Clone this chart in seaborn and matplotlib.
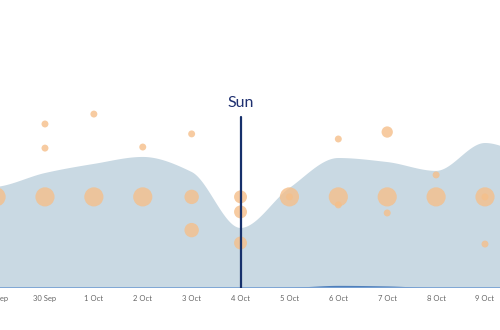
import numpy as np
import pandas as pd
import matplotlib
matplotlib.use("Agg")
import matplotlib.pyplot as plt
import matplotlib.dates as mdates
import seaborn as sns

# ---- data ----
area_dates = ["2023-09-28", "2023-09-29", "2023-09-30", "2023-10-01", "2023-10-02", "2023-10-03",
              "2023-10-04", "2023-10-05", "2023-10-06", "2023-10-07", "2023-10-08", "2023-10-09",
              "2023-10-10"]
area_values = [36.6, 37.7, 42.9, 46.3, 48.9, 43.3, 22.4, 37.3, 48.5, 47.0, 43.7, 54.1, 47.8]
minor_values = [0, 0, 0, 0, 0, 0, 0, 0.1, 0.8, 0.6, 0, 0, 0]

bubble_dates = ["2023-09-29",
                "2023-09-30", "2023-09-30", "2023-09-30",
                "2023-10-01", "2023-10-01",
                "2023-10-02", "2023-10-02",
                "2023-10-03", "2023-10-03", "2023-10-03",
                "2023-10-04", "2023-10-04", "2023-10-04",
                "2023-10-05", "2023-10-05",
                "2023-10-06", "2023-10-06", "2023-10-06",
                "2023-10-07", "2023-10-07", "2023-10-07",
                "2023-10-08", "2023-10-08",
                "2023-10-09", "2023-10-09", "2023-10-09"]
bubble_values = [34.0,
                 34.0, 61.2, 52.2,
                 34.0, 64.9,
                 34.0, 52.6,
                 34.0, 21.6, 57.5,
                 34.0, 28.4, 16.8,
                 34.0, 34.0,
                 34.0, 31.0, 55.6,
                 34.0, 28.0, 58.2,
                 34.0, 42.2,
                 34.0, 34.0, 16.4]
bubble_sizes = [10,
                10, 2, 2,
                10, 2,
                10, 2,
                6, 6, 2,
                5, 5, 5,
                10, 2,
                10, 2, 2,
                10, 2, 4,
                10, 2,
                10, 2, 2]

marker_date = "2023-10-04"
marker_value = 63.8
marker_label = "Sun"


def monotone(x, y, xs):
    x = np.asarray(x, float); y = np.asarray(y, float)
    h = np.diff(x); d = np.diff(y) / h
    n = len(x); m = np.zeros(n)
    m[0], m[-1] = d[0], d[-1]
    for k in range(1, n - 1):
        if d[k - 1] * d[k] > 0:
            w1 = 2 * h[k] + h[k - 1]; w2 = h[k] + 2 * h[k - 1]
            m[k] = (w1 + w2) / (w1 / d[k - 1] + w2 / d[k])
    idx = np.clip(np.searchsorted(x, xs) - 1, 0, n - 2)
    t = (xs - x[idx]) / h[idx]
    h00 = 2 * t**3 - 3 * t**2 + 1; h10 = t**3 - 2 * t**2 + t
    h01 = -2 * t**3 + 3 * t**2; h11 = t**3 - t**2
    return h00 * y[idx] + h10 * h[idx] * m[idx] + h01 * y[idx + 1] + h11 * h[idx] * m[idx + 1]


ax_x = mdates.date2num(pd.to_datetime(area_dates))
xs = np.linspace(ax_x[0], ax_x[-1], 800)
ys = monotone(ax_x, area_values, xs)
ys2 = np.clip(monotone(ax_x, minor_values, xs), 0, None)

df = pd.DataFrame({"x": mdates.date2num(pd.to_datetime(bubble_dates)),
                   "y": bubble_values, "s": bubble_sizes})

sns.set_style("white")
plt.rcParams["font.family"] = ["Lato", "DejaVu Sans"]

fig = plt.figure(figsize=(5, 3.3), dpi=100)
ax = fig.add_axes([0, 42 / 330, 1, 268 / 330])

ax.fill_between(xs, 0, ys, color="#c9d9e3", lw=0, zorder=1)
ax.fill_between(xs, 0, ys2, color="#4f7fbb", lw=0, zorder=2)
ax.axhline(0, color="#7aa3d4", lw=1.3, zorder=3)

sns.scatterplot(data=df, x="x", y="y", size="s", sizes=(25, 190), color="#f5bf8a",
                alpha=0.8, edgecolor="none", linewidth=0, legend=False, ax=ax, zorder=4)

mx = mdates.date2num(pd.to_datetime(marker_date))
ax.plot([mx, mx], [0, marker_value], color="#16306b", lw=1.6, zorder=5)
ax.text(mx, marker_value + 2.6, marker_label, ha="center", va="bottom",
        fontsize=11.5, color="#1f3070", zorder=6)

d0 = mdates.date2num(pd.Timestamp("2023-09-29"))
d1 = mdates.date2num(pd.Timestamp("2023-10-09"))
ax.set_xlim(d0 + 0.08, d1 + 0.307)
ax.set_ylim(0, 100)
ax.xaxis.set_major_locator(mdates.DayLocator())
ax.xaxis.set_major_formatter(mdates.DateFormatter("%-d %b"))
ax.tick_params(axis="x", length=0, pad=5, labelsize=5.5, labelcolor="#666666")
ax.set_yticks([])
ax.set_xlabel(""); ax.set_ylabel("")
for s in ax.spines.values():
    s.set_visible(False)

# partially visible label of the day just left of the view
ax.annotate(mdates.num2date(d0).strftime("%-d %b"), xy=(d0, 0), xycoords=("data", "axes fraction"),
            xytext=(0, -5), textcoords="offset points", ha="center", va="top",
            fontsize=5.5, color="#666666", annotation_clip=False)

fig.savefig("out.png", dpi=100)
